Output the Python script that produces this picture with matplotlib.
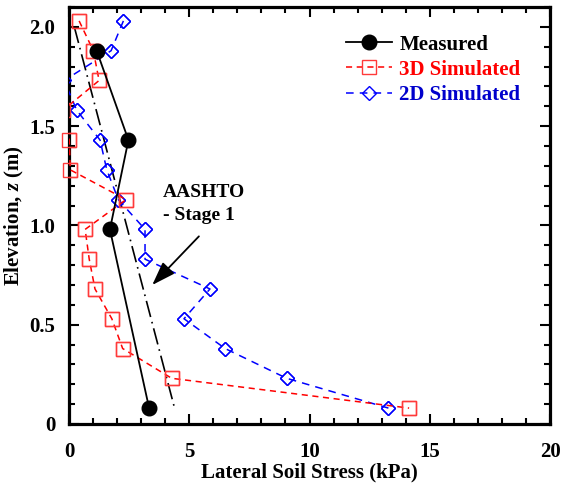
import matplotlib
matplotlib.use('Agg')

import matplotlib.pyplot as plt
import numpy as np

# Elevations of the pressure cells (m)
elev = [2.03, 1.88, 1.73, 1.58, 1.43, 1.28, 1.13, 0.98, 0.83, 0.68, 0.53, 0.38, 0.23, 0.08]

# Measured lateral stress (kPa)
meas_z = [1.88, 1.43, 0.98, 0.08]
meas_p = [1.15, 2.47, 1.70, 3.33]

# 3D and 2D simulated lateral stress (kPa)
sim3d_p = [0.42, 1.01, 1.25, -0.25, 0.01, 0.05, 2.37, 0.67, 0.84, 1.08, 1.78, 2.23, 4.27, 14.14]
sim2d_p = [2.26, 1.75, -0.2, 0.32, 1.29, 1.57, 2.05, 3.16, 3.16, 5.86, 4.78, 6.49, 9.05, 13.28]

# AASHTO design line, stage 1
aashto_p = [0.22, 4.41]
aashto_z = [2.0, 0.07]

plt.rcParams['font.family'] = ['Liberation Serif', 'DejaVu Serif']
plt.rcParams['font.weight'] = 'bold'
plt.rcParams['mathtext.fontset'] = 'custom'
plt.rcParams['mathtext.it'] = 'Liberation Serif:italic:bold'
plt.rcParams['mathtext.rm'] = 'Liberation Serif:bold'

fig = plt.figure(figsize=(5.63, 4.91), dpi=100)
ax = fig.add_axes([0.1226, 0.1365, 0.977 - 0.1226, 0.9857 - 0.1365])

ax.plot(aashto_p, aashto_z, color='black', lw=1.2, dashes=(10, 3, 1, 3), zorder=2)
ax.plot(meas_p, meas_z, '-o', color='black', lw=1.3, ms=10.5,
        label='Measured', zorder=5)

red_style = dict(mfc='none', mec='#ff3a3a', mew=1.0, ms=9.5)
blue_style = dict(mfc='none', mec='blue', mew=1.0, ms=6.8)
ax.plot(sim3d_p, elev, '--s', color='red', lw=1.1, dashes=(4, 3),
        label='3D Simulated', zorder=4, **red_style)
ax.plot(sim2d_p, elev, '--D', color='blue', lw=1.1, dashes=(5, 4),
        label='2D Simulated', zorder=3, **blue_style)

# markers sitting on the y axis are drawn whole, ones off the axis are dropped
p3 = np.ma.masked_less(sim3d_p, 0)
p2 = np.ma.masked_less(sim2d_p, 0)
ax.plot(p3, elev, 's', clip_on=False, zorder=4, **red_style)
ax.plot(p2, elev, 'D', clip_on=False, zorder=3, **blue_style)

ax.annotate('', xy=(3.46, 0.70), xytext=(5.4, 0.945),
            arrowprops=dict(arrowstyle='-|>,head_length=1.45,head_width=0.5',
                            color='black', lw=1.3, shrinkA=0, shrinkB=0))
ax.text(3.92, 1.21, 'AASHTO\n- Stage 1', fontsize=14, fontweight='bold',
        va='top', ha='left', linespacing=1.5)

ax.set_xlim(0, 20)
ax.set_ylim(0, 2.1)
ax.set_xticks(np.arange(0, 21, 5))
ax.set_xticks(np.arange(0, 21, 1), minor=True)
ax.set_yticks([0, 0.5, 1.0, 1.5, 2.0])
ax.set_yticklabels(['0', '0.5', '1.0', '1.5', '2.0'])
ax.set_yticks(np.arange(0, 2.11, 0.1), minor=True)
ax.tick_params(which='both', direction='in', top=True, right=True,
               labelsize=15, width=1.5)
ax.tick_params(which='major', length=7)
ax.tick_params(which='minor', length=4)
ax.tick_params(axis='x', which='major', pad=13)
ax.tick_params(axis='y', which='major', pad=10)
for s in ax.spines.values():
    s.set_linewidth(2.3)

ax.set_xlabel('Lateral Soil Stress (kPa)', fontsize=15, fontweight='bold', labelpad=0)
ax.set_ylabel(r'Elevation, $z$ (m)', fontsize=15, fontweight='bold', labelpad=2)

leg = ax.legend(loc='upper right', bbox_to_anchor=(0.956, 0.954), frameon=False,
                fontsize=15, handlelength=2.2, handletextpad=0.35,
                borderaxespad=0, labelspacing=0.25)
for txt, c in zip(leg.get_texts(), ['black', 'red', '#0000cc']):
    txt.set_color(c)

fig.savefig('out.png', dpi=100)
